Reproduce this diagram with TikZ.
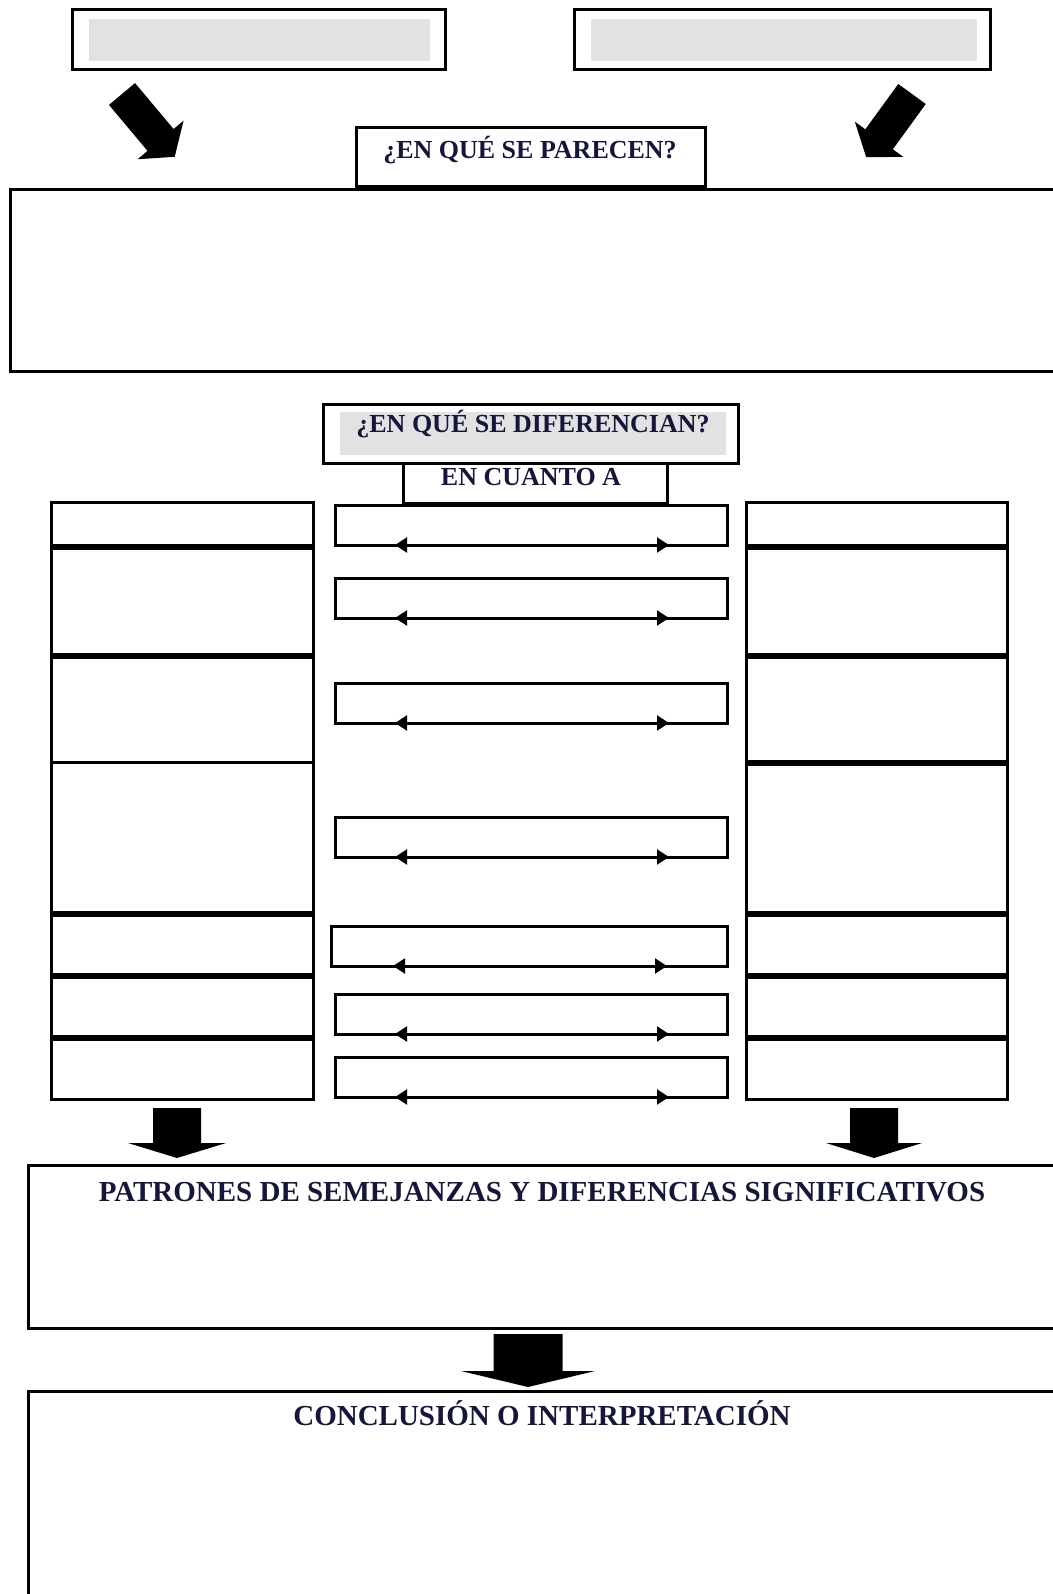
\documentclass[tikz,border=0pt]{standalone}
\usepackage{fontspec}
\setmainfont{Liberation Serif}
\usepackage{xcolor}
\usepackage{tikz}
\usetikzlibrary{arrows.meta}

\definecolor{gris}{RGB}{226,226,226}
\definecolor{tinta}{RGB}{22,22,58}

% flecha gruesa: punto de cola, giro, largo, medio cuerpo, media punta, largo punta
\newcommand{\flechagorda}[6]{%
  \begin{scope}[shift={(#1)},rotate=#2]
    \fill (-#4,0) -- (-#4,#3-#6) -- (-#5,#3-#6) -- (0,#3) -- (#5,#3-#6) -- (#4,#3-#6) -- (#4,0) -- cycle;
  \end{scope}}

\begin{document}
\begin{tikzpicture}[x=0.5pt,y=-0.5pt,
  caja/.style={draw,line width=1.5pt,inner sep=0pt,outer sep=0pt,anchor=north west},
  sombra/.style={fill=gris,inner sep=0pt,outer sep=0pt,anchor=north west},
  tit/.style={font=\bfseries\fontsize{13}{15}\selectfont,text=tinta,inner sep=0pt},
  titg/.style={font=\bfseries\fontsize{14.5}{17}\selectfont,text=tinta,inner sep=0pt},
  separador/.style={line width=3pt},
  >={Triangle[length=6pt,width=7.5pt]}]
\useasboundingbox (0,0) rectangle (1053,1594);

\node[caja,minimum width=186.5pt,minimum height=30pt] (A) at (72,10) {};
\node[sombra,minimum width=170.5pt,minimum height=21pt] (Ag) at (89,19) {};
\node[caja,minimum width=208pt,minimum height=30pt] (B) at (574,10) {};
\node[sombra,minimum width=193pt,minimum height=21pt] (Bg) at (591,19) {};

\flechagorda{122,94}{40}{82}{17}{30}{22}
\flechagorda{912,94}{-36}{78}{17}{30}{22}

\node[caja,minimum width=174.5pt,minimum height=29.5pt] (parecen) at (356,128) {};
\node[tit] (tparecen) at (530,150) {¿EN QUÉ SE PARECEN?};
\node[caja,minimum width=530pt,minimum height=90.5pt] (semejanzas) at (10,190) {};

\node[caja,minimum width=207.5pt,minimum height=29.5pt] (dif) at (323,404) {};
\node[sombra,minimum width=193pt,minimum height=21.5pt] (difg) at (340,412) {};
\node[tit] (tdif) at (533,424) {¿EN QUÉ SE DIFERENCIAN?};
\node[caja,minimum width=132pt,minimum height=20pt] (cuanto) at (403,463) {};
\node[tit] (tcuanto) at (531,477) {EN CUANTO A};

\foreach \y/\h [count=\i] in {502/22.5pt,547/54.5pt,656/53pt,762/76pt,914/31pt,976/31pt,1038/30.5pt}
  \node[caja,minimum width=131pt,minimum height=\h] (izq\i) at (51,\y) {};
\foreach \y/\h [count=\i] in {502/22.5pt,547/54.5pt,656/53.5pt,763/75.5pt,914/31pt,976/31pt,1038/30.5pt}
  \node[caja,minimum width=130.5pt,minimum height=\h] (der\i) at (746,\y) {};
\foreach \i in {1,2,4,5,6}
  \draw[separador] (izq\i.south west) -- (izq\i.south east);
\foreach \i in {1,...,6}
  \draw[separador] (der\i.south west) -- (der\i.south east);

\foreach \x/\y/\w [count=\i] in {335/505/196pt,335/578/196pt,335/683/196pt,335/817/196pt,331/926/198pt,335/994/196pt,335/1057/196pt}
  \node[caja,minimum width=\w,minimum height=20pt] (medio\i) at (\x,\y) {};
\foreach \i in {1,...,7}
  \draw[<->,line width=1pt] ([xshift=-68pt]medio\i.south) -- ([xshift=69pt]medio\i.south);

\flechagorda{177,1108}{0}{50}{24}{49}{15}
\flechagorda{874,1108}{0}{50}{24}{48}{15}

\node[caja,minimum width=520pt,minimum height=81.5pt] (patrones) at (28,1165) {};
\node[titg] (tpatrones) at (542,1192) {PATRONES DE SEMEJANZAS Y DIFERENCIAS SIGNIFICATIVOS};

\flechagorda{528,1334}{0}{53}{34.5}{67}{16}

\node[caja,minimum width=520pt,minimum height=120pt] (conclusion) at (28,1391) {};
\node[titg] (tconclusion) at (542,1413) {CONCLUSIÓN O INTERPRETACIÓN};
\end{tikzpicture}
\end{document}
